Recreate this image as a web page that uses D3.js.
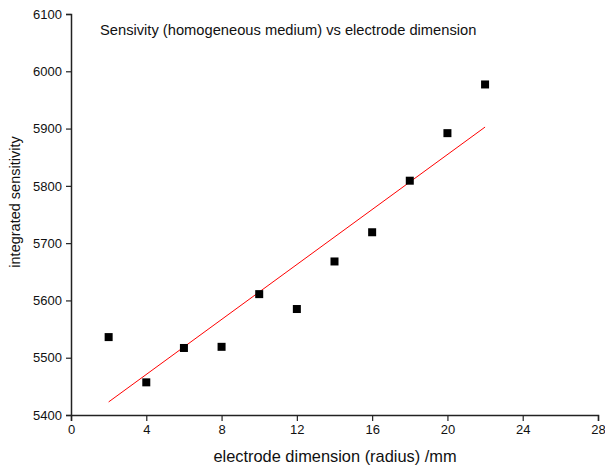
<!DOCTYPE html>
<html>
<head>
<meta charset="utf-8">
<script src="https://cdn.jsdelivr.net/npm/d3@7"></script>
<style>
  body { margin: 0; background: #fff; }
  text { font-family: "Liberation Sans", Arial, sans-serif; fill: #111; }
</style>
</head>
<body>
<div id="chart"></div>
<script>
// electrode radius (mm) and integrated sensitivity
var radius = [2, 4, 6, 8, 10, 12, 14, 16, 18, 20, 22];
var sensitivity = [5536, 5457, 5517, 5519, 5611, 5585, 5668, 5719, 5809, 5892, 5977];
var xTicks = [0, 4, 8, 12, 16, 20, 24, 28];
var yTicks = [5400, 5500, 5600, 5700, 5800, 5900, 6000, 6100];

var W = 605, H = 470;
var margin = {top: 14, right: 7, bottom: 55, left: 71};

var svg = d3.select("#chart").append("svg")
  .attr("width", W).attr("height", H);

var x = d3.scaleLinear().domain([0, 28]).range([margin.left, W - margin.right]);
var y = d3.scaleLinear().domain([5400, 6100]).range([H - margin.bottom, margin.top]);

// linear fit through the points
var n = radius.length,
    mx = d3.mean(radius), my = d3.mean(sensitivity);
var sxy = d3.sum(radius, function(d, i){ return (d - mx) * (sensitivity[i] - my); });
var sxx = d3.sum(radius, function(d){ return (d - mx) * (d - mx); });
var slope = sxy / sxx, icept = my - slope * mx;
var fitX = [radius[0], radius[n - 1]];

// minor ticks
var gx = svg.append("g").attr("transform", "translate(0," + y(5400) + ")");
gx.call(d3.axisBottom(x).tickValues(d3.range(2, 28, 4)).tickSize(4).tickFormat(""));
gx.call(d3.axisBottom(x).tickValues(xTicks).tickSize(6).tickPadding(4));
gx.selectAll("text").style("font-size", "13px");

var gy = svg.append("g").attr("transform", "translate(" + x(0) + ",0)");
gy.call(d3.axisLeft(y).tickValues(d3.range(5450, 6100, 100)).tickSize(3).tickFormat(""));
gy.call(d3.axisLeft(y).tickValues(yTicks).tickSize(5).tickPadding(4).tickFormat(d3.format("d")));
gy.selectAll("text").style("font-size", "13px");

svg.selectAll(".domain").attr("stroke", "#222").attr("stroke-width", 1.5);
svg.selectAll(".tick line").attr("stroke", "#222").attr("stroke-width", 1.2);

// fit line
svg.append("line")
  .attr("x1", x(fitX[0])).attr("y1", y(icept + slope * fitX[0]))
  .attr("x2", x(fitX[1])).attr("y2", y(icept + slope * fitX[1]))
  .attr("stroke", "#ff0000").attr("stroke-width", 1);

// points
var s = 8;
svg.selectAll("rect.pt").data(radius).enter().append("rect")
  .attr("class", "pt")
  .attr("x", function(d){ return x(d) - s / 2; })
  .attr("y", function(d, i){ return y(sensitivity[i]) - s / 2; })
  .attr("width", s).attr("height", s)
  .attr("fill", "#000");

svg.append("text")
  .attr("x", 100).attr("y", 35)
  .style("font-size", "14.7px")
  .text("Sensivity (homogeneous medium) vs electrode dimension");

svg.append("text")
  .attr("x", 335).attr("y", 462)
  .attr("text-anchor", "middle")
  .style("font-size", "16.4px")
  .text("electrode dimension (radius) /mm");

svg.append("text")
  .attr("transform", "translate(20," + 202 + ") rotate(-90)")
  .attr("text-anchor", "middle")
  .style("font-size", "14.5px")
  .text("integrated sensitivity");
</script>
</body>
</html>
